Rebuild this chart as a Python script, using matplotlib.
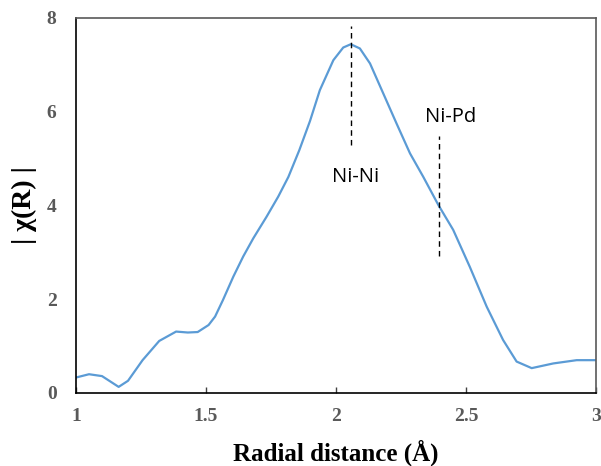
import matplotlib
matplotlib.use("Agg")
import matplotlib.pyplot as plt

# Data
radial_distance = [1.0, 1.05, 1.1, 1.164, 1.2, 1.256, 1.32, 1.385, 1.43, 1.468,
                   1.51, 1.535, 1.565, 1.605, 1.643, 1.682, 1.733, 1.778, 1.817,
                   1.859, 1.9, 1.938, 1.99, 2.028, 2.057, 2.092, 2.131, 2.182,
                   2.233, 2.285, 2.336, 2.394, 2.451, 2.515, 2.58, 2.643, 2.695,
                   2.753, 2.836, 2.926, 3.0]
chi_r = [0.33, 0.40, 0.36, 0.13, 0.26, 0.70, 1.11, 1.31, 1.29, 1.30,
         1.45, 1.63, 1.98, 2.48, 2.91, 3.30, 3.76, 4.19, 4.61,
         5.18, 5.80, 6.46, 7.10, 7.37, 7.44, 7.35, 7.03, 6.39,
         5.75, 5.11, 4.61, 4.01, 3.48, 2.69, 1.84, 1.13, 0.67,
         0.53, 0.63, 0.70, 0.70]

x_ticks = [1, 1.5, 2, 2.5, 3]
x_tick_labels = ["1", "1.5", "2", "2.5", "3"]
y_ticks = [0, 2, 4, 6, 8]
y_tick_labels = ["0", "2", "4", "6", "8"]

marker_labels = ["Ni-Ni", "Ni-Pd"]
marker_x = [2.057, 2.395]
marker_ymin = [5.29, 2.93]
marker_ymax = [7.83, 5.48]
label_x = [2.076, 2.44]
label_y = [4.61, 5.88]

fig = plt.figure(figsize=(6.01, 4.66), dpi=100)
ax = fig.add_axes([0.1265, 0.1567, 0.865, 0.8047])

ax.plot(radial_distance, chi_r, color="#5B9BD5", lw=1.6, solid_joinstyle="round")

for mx, y0, y1 in zip(marker_x, marker_ymin, marker_ymax):
    ax.plot([mx, mx], [y0, y1], color="black", lw=1.0, linestyle=(0, (4, 3)))
for lbl, lx, ly in zip(marker_labels, label_x, label_y):
    ax.text(lx, ly, lbl, ha="center", va="center", fontsize=14.5,
            family="Open Sans", color="black")

ax.set_xlim(1, 3)
ax.set_ylim(0, 8)
ax.set_xticks(x_ticks)
ax.set_xticklabels(x_tick_labels)
ax.set_yticks(y_ticks)
ax.set_yticklabels(y_tick_labels)

for lab in ax.get_xticklabels() + ax.get_yticklabels():
    lab.set_family("Liberation Serif")
    lab.set_fontweight("bold")
    lab.set_fontsize(14)
    lab.set_color("#595959")

ax.tick_params(axis="x", direction="in", length=4, width=1.0, color="#404040", pad=11)
ax.tick_params(axis="y", length=0, pad=14)

for side in ["left", "bottom"]:
    ax.spines[side].set_color("black")
    ax.spines[side].set_linewidth(1.2)
for side in ["top", "right"]:
    ax.spines[side].set_color("#595959")
    ax.spines[side].set_linewidth(1.2)

ax.set_xlabel("Radial distance (Å)", family="Liberation Serif", fontweight="bold",
              fontsize=18, labelpad=10)
ax.set_ylabel("| χ(R) |", family="Liberation Serif", fontweight="bold",
              fontsize=20, labelpad=7)

fig.savefig("out.png", dpi=100)
